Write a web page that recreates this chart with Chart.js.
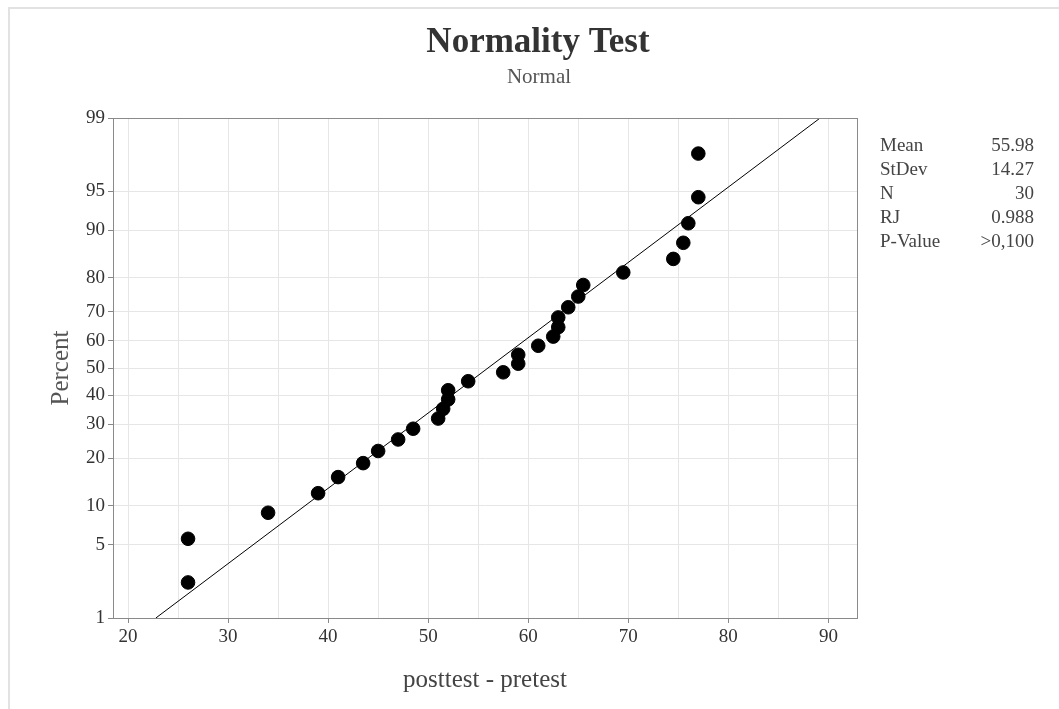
<!DOCTYPE html>
<html>
<head>
<meta charset="utf-8">
<script src="https://cdn.jsdelivr.net/npm/chart.js@4.4.1/dist/chart.umd.min.js"></script>
<style>
  html, body { margin: 0; padding: 0; background: #fff; }
  #wrap { position: relative; width: 1059px; height: 709px; }
  #frame { position: absolute; left: 8px; top: 7px; width: 1100px; height: 800px; border: 2px solid #e2e2e2; box-sizing: border-box; }
  canvas { position: absolute; left: 0; top: 0; }
</style>
</head>
<body>
<div id="wrap">
  <div id="frame"></div>
  <canvas id="probPlot" width="1059" height="709"></canvas>
</div>
<script>
// sorted differences (posttest - pretest)
const diffs = [26, 26, 34, 39, 41, 43.5, 45, 47, 48.5, 51, 51.5, 52, 52, 54, 57.5,
               59, 59, 61, 62.5, 63, 63, 64, 65, 65.5, 69.5, 74.5, 75.5, 76, 77, 77];
// plotted percent for each point
const percents = [2.3, 5.6, 8.9, 12.2, 15.5, 18.8, 22.0, 25.3, 28.6, 31.9, 35.2, 38.5, 41.8, 45.1, 48.4,
                  51.6, 54.9, 58.2, 61.5, 64.8, 68.1, 71.4, 74.7, 78.0, 81.3, 84.5, 87.8, 91.1, 94.4, 97.7];
const yTickLabels = [1, 5, 10, 20, 30, 40, 50, 60, 70, 80, 90, 95, 99];
const xTicks = [20, 25, 30, 35, 40, 45, 50, 55, 60, 65, 70, 75, 80, 85, 90];
const statNames = ['Mean', 'StDev', 'N', 'RJ', 'P-Value'];
const statValues = ['55.98', '14.27', '30', '0.988', '>0,100'];
const mean = 55.98, stdev = 14.27;

const FONT = '"Liberation Serif", "Times New Roman", serif';

// inverse standard normal cdf (Acklam)
function probit(p) {
  const a = [-39.69683028665376, 220.9460984245205, -275.9285104469687, 138.3577518672690, -30.66479806614716, 2.506628277459239];
  const b = [-54.47609879822406, 161.5858368580409, -155.6989798598866, 66.80131188771972, -13.28068155288572];
  const c = [-0.007784894002430293, -0.3223964580411365, -2.400758277161838, -2.549732539343734, 4.374664141464968, 2.938163982698783];
  const d = [0.007784695709041462, 0.3224671290700398, 2.445134137142996, 3.754408661907416];
  const pl = 0.02425;
  let q, r;
  if (p < pl) {
    q = Math.sqrt(-2 * Math.log(p));
    return (((((c[0]*q+c[1])*q+c[2])*q+c[3])*q+c[4])*q+c[5]) / ((((d[0]*q+d[1])*q+d[2])*q+d[3])*q+1);
  }
  if (p <= 1 - pl) {
    q = p - 0.5; r = q * q;
    return (((((a[0]*r+a[1])*r+a[2])*r+a[3])*r+a[4])*r+a[5])*q / (((((b[0]*r+b[1])*r+b[2])*r+b[3])*r+b[4])*r+1);
  }
  q = Math.sqrt(-2 * Math.log(1 - p));
  return -(((((c[0]*q+c[1])*q+c[2])*q+c[3])*q+c[4])*q+c[5]) / ((((d[0]*q+d[1])*q+d[2])*q+d[3])*q+1);
}

const zMin = probit(0.01), zMax = probit(0.99);
const points = diffs.map((x, i) => ({x: x, y: probit(percents[i] / 100)}));
const fitLine = [zMin, zMax].map(z => ({x: mean + z * stdev, y: z}));

const textPlugin = {
  id: 'texts',
  afterDraw(chart) {
    const ctx = chart.ctx;
    const area = chart.chartArea;
    ctx.save();
    // plot frame
    ctx.strokeStyle = '#8a8a8a';
    ctx.lineWidth = 1;
    ctx.strokeRect(area.left + 0.5, area.top + 0.5, area.right - area.left, area.bottom - area.top);
    // titles
    ctx.textAlign = 'center';
    ctx.textBaseline = 'middle';
    ctx.fillStyle = '#333';
    ctx.font = 'bold 35px ' + FONT;
    ctx.fillText('Normality Test', 538, 43);
    ctx.fillStyle = '#555';
    ctx.font = '21px ' + FONT;
    ctx.fillText('Normal', 539, 77);
    // stats box
    ctx.font = '19px ' + FONT;
    ctx.fillStyle = '#444';
    statNames.forEach((name, i) => {
      const y = 146 + i * 24;
      ctx.textAlign = 'left';
      ctx.fillText(name, 880, y);
      ctx.textAlign = 'right';
      ctx.fillText(statValues[i], 1034, y);
    });
    ctx.restore();
  }
};

new Chart(document.getElementById('probPlot').getContext('2d'), {
  type: 'scatter',
  data: {
    datasets: [
      {
        label: 'fit',
        type: 'line',
        data: fitLine,
        borderColor: '#000',
        borderWidth: 1,
        pointRadius: 0,
        fill: false,
        order: 2
      },
      {
        label: 'posttest - pretest',
        data: points,
        backgroundColor: '#000',
        borderColor: '#000',
        pointRadius: 6.8,
        pointHoverRadius: 6.8,
        order: 1
      }
    ]
  },
  options: {
    responsive: false,
    animation: false,
    layout: {padding: {left: 46, right: 202, top: 118, bottom: 14}},
    plugins: {legend: {display: false}, tooltip: {enabled: false}},
    scales: {
      x: {
        type: 'linear',
        min: 18.5,
        max: 92.86,
        afterBuildTicks: scale => { scale.ticks = xTicks.map(v => ({value: v})); },
        afterFit: scale => { scale.height = 709 - 618 - 14; },
        ticks: {
          color: '#333',
          font: {family: FONT, size: 19},
          padding: 3,
          maxRotation: 0,
          autoSkip: false,
          callback: v => (v % 10 === 0 ? String(v) : '')
        },
        grid: {
          color: '#e6e6e6',
          tickLength: 5,
          tickColor: c => (c.tick && c.tick.value % 10 === 0 ? '#888' : 'rgba(0,0,0,0)')
        },
        border: {color: '#8a8a8a'},
        title: {display: true, text: 'posttest - pretest', color: '#444', font: {family: FONT, size: 25}, padding: {top: 4, bottom: 0}}
      },
      y: {
        type: 'linear',
        min: zMin,
        max: zMax,
        afterBuildTicks: scale => { scale.ticks = yTickLabels.map(p => ({value: probit(p / 100)})); },
        afterFit: scale => { scale.width = 113 - 46; },
        ticks: {
          color: '#333',
          font: {family: FONT, size: 19},
          padding: 3,
          autoSkip: false,
          callback: (v, i) => String(yTickLabels[i])
        },
        grid: {color: '#e6e6e6', tickLength: 5, tickColor: '#888'},
        border: {color: '#8a8a8a'},
        title: {display: true, text: 'Percent', color: '#555', font: {family: FONT, size: 25}, padding: {top: 0, bottom: 4}}
      }
    }
  },
  plugins: [textPlugin]
});
</script>
</body>
</html>
